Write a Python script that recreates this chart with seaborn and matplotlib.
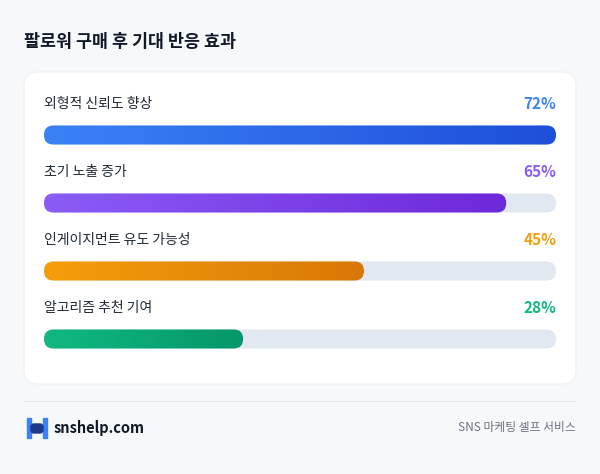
import matplotlib
matplotlib.use("Agg")
import matplotlib.pyplot as plt
import seaborn as sns
import numpy as np
import pandas as pd
from matplotlib.patches import FancyBboxPatch, Rectangle

sns.set_theme(style="white")
plt.rcParams['font.family'] = ['Noto Sans CJK KR', 'DejaVu Sans']

title = "팔로워 구매 후 기대 반응 효과"
categories = ["외형적 신뢰도 향상", "초기 노출 증가", "인게이지먼트 유도 가능성", "알고리즘 추천 기여"]
values = [72, 65, 45, 28]
scale_max = 72
grad_start = ["#3b82f6", "#8b5cf6", "#f59e0b", "#10b981"]
grad_end = ["#1d4ed8", "#6d28d9", "#d97706", "#059669"]
text_colors = ["#3b82f6", "#8b5cf6", "#f59e0b", "#10b981"]
brand = "snshelp.com"
tagline = "SNS 마케팅 셀프 서비스"

W, H = 600, 474
fig = plt.figure(figsize=(6, 4.74), dpi=100)
fig.patch.set_facecolor("#f7f8fa")

bg = fig.add_axes([0, 0, 1, 1])
bg.set_xlim(0, W); bg.set_ylim(H, 0); bg.axis("off")
bg.text(24, 42, title, fontsize=12.5, fontweight="bold", color="#111827", va="center")
card = FancyBboxPatch((24, 72), 552, 312, boxstyle="round,pad=0,rounding_size=14",
                      fc="white", ec="#eef0f3", lw=0.8)
bg.add_patch(card)
bg.plot([24, 576], [401, 401], color="#e5e7eb", lw=0.8)
# logo
bg.add_patch(Rectangle((27, 418), 4, 20, color="#3b82f6"))
bg.add_patch(Rectangle((43, 418), 4, 20, color="#3b82f6"))
bg.add_patch(FancyBboxPatch((31, 424), 12, 9, boxstyle="round,pad=0,rounding_size=3", color="#1e3a8a"))
bg.text(54, 428, brand, fontsize=10.5, fontweight="bold", color="#111827", va="center")
bg.text(576, 428, tagline, fontsize=8.5, color="#6b7280", va="center", ha="right")

for i, (c, v) in enumerate(zip(categories, values)):
    y = 104 + 68 * i
    bg.text(44, y, c, fontsize=10, color="#1f2937", va="center")
    bg.text(556, y, f"{v}%", fontsize=11, fontweight="bold", color=text_colors[i], va="center", ha="right")

ax = fig.add_axes([44 / W, 1 - 373 / H, 512 / W, 272 / H])
df = pd.DataFrame({"cat": categories, "val": values})
sns.barplot(data=df, x="val", y="cat", orient="h", ax=ax, width=0.28)
ax.set_xlim(0, scale_max); ax.set_ylim(3.5, -0.5); ax.axis("off")
ax.patch.set_alpha(0)

xu = 512 / scale_max; yu = 68.0
aspect = xu / yu
r = 9.5 / xu
for i, p in enumerate(list(ax.patches)):
    x0, y0, w, h = p.get_x(), p.get_y(), p.get_width(), p.get_height()
    p.set_visible(False)
    track = FancyBboxPatch((0, y0), scale_max, h, boxstyle=f"round,pad=0,rounding_size={r}",
                           mutation_aspect=aspect, fc="#e2e8f0", ec="none")
    ax.add_patch(track)
    bar = FancyBboxPatch((x0, y0), w, h, boxstyle=f"round,pad=0,rounding_size={r}",
                         mutation_aspect=aspect, fc="none", ec="none")
    ax.add_patch(bar)
    c1 = np.array(matplotlib.colors.to_rgb(grad_start[i]))
    c2 = np.array(matplotlib.colors.to_rgb(grad_end[i]))
    t = np.linspace(0, 1, 256)[None, :, None]
    img = c1 + (c2 - c1) * t
    im = ax.imshow(img, extent=(x0, x0 + w, y0 + h, y0), aspect="auto", zorder=3)
    im.set_clip_path(bar)
ax.set_xlim(0, scale_max); ax.set_ylim(3.5, -0.5)

fig.savefig("out.png", dpi=100, facecolor=fig.get_facecolor())
